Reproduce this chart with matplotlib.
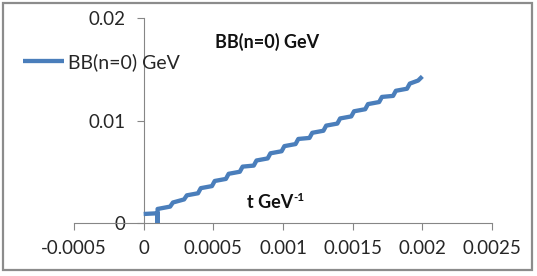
import matplotlib
matplotlib.use("Agg")
import matplotlib.pyplot as plt
from matplotlib.patches import Rectangle

plt.rcParams['font.family'] = ['Lato', 'DejaVu Sans']

# series (step corners)
t = [0, 0.0001, 0.0001, 0.0001,
     0.00019, 0.00021, 0.00029, 0.00031, 0.00039, 0.00041, 0.00049, 0.00051,
     0.00059, 0.00061, 0.00069, 0.00071, 0.00079, 0.00081, 0.00089, 0.00091,
     0.00099, 0.00101, 0.00109, 0.00111, 0.00119, 0.00121, 0.00129, 0.00131,
     0.00139, 0.00141, 0.00149, 0.00151, 0.00159, 0.00161, 0.00169, 0.00171,
     0.00179, 0.00181, 0.00189, 0.00191, 0.00197, 0.0020]
bb = [0.00088, 0.00095, -0.0009, 0.00137,
      0.0016, 0.0020, 0.0023, 0.0027, 0.0029, 0.0034, 0.0036, 0.0041,
      0.0043, 0.0048, 0.0050, 0.0055, 0.0056, 0.0061, 0.0063, 0.0068,
      0.0070, 0.0075, 0.0077, 0.0082, 0.0083, 0.0088, 0.0090, 0.0095,
      0.0097, 0.0102, 0.0104, 0.0109, 0.0111, 0.0116, 0.0118, 0.0123,
      0.0124, 0.0129, 0.0131, 0.0136, 0.0139, 0.0143]

xticks = [-0.0005, 0, 0.0005, 0.001, 0.0015, 0.002, 0.0025]
xlabels = ['-0.0005', '0', '0.0005', '0.001', '0.0015', '0.002', '0.0025']
yticks = [0, 0.01, 0.02]
ylabels = ['0', '0.01', '0.02']

W, H = 537, 276
fig = plt.figure(figsize=(W / 100, H / 100), dpi=100)
ax = fig.add_axes([74 / W, 1 - 223 / H, 418 / W, 205 / H])
ax.patch.set_alpha(0)

ax.plot(t, bb, color='#4a7ebb', lw=3.1, solid_joinstyle='round',
        solid_capstyle='butt', label='BB(n=0) GeV', zorder=3)

ax.set_xlim(-0.0005, 0.0025)
ax.set_ylim(0, 0.02)
ax.set_xticks(xticks, xlabels)
ax.set_yticks(yticks, ylabels)

# axes cross at zero, excel style
gray = '#868686'
for s in ['top', 'right']:
    ax.spines[s].set_visible(False)
ax.spines['left'].set_position(('data', 0))
ax.spines['bottom'].set_position(('data', 0))
for s in ['left', 'bottom']:
    ax.spines[s].set_color(gray)
    ax.spines[s].set_linewidth(0.8)
ax.tick_params(axis='both', colors=gray, labelcolor='#262626', length=5,
               width=0.8, labelsize=13.5)
ax.tick_params(axis='x', pad=7)
ax.tick_params(axis='y', pad=8)

leg = ax.legend(loc='center left', bbox_to_anchor=(23 / W, 1 - 62 / H),
                bbox_transform=fig.transFigure, frameon=False, fontsize=14,
                handlelength=2.1, handletextpad=0.2, borderpad=0,
                borderaxespad=0)
for txt in leg.get_texts():
    txt.set_color('#262626')

fig.text(267 / W, 1 - 42 / H, 'BB(n=0) GeV', fontsize=13, fontweight='bold',
         ha='center', va='center', color='#111111')
lbl = fig.text(247 / W, 1 - 203 / H, 't GeV', fontsize=13, fontweight='bold',
               ha='left', va='center', color='#111111')
ax.annotate('-1', xy=(1.0, 0.82), xycoords=lbl, fontsize=8.5,
            fontweight='bold', color='#111111', ha='left', va='center')

# chart border
fig.patches.append(Rectangle((2.5 / W, 1 - 270 / H), 529.5 / W, 267.5 / H,
                             transform=fig.transFigure, fill=False,
                             edgecolor='#8c8c8c', lw=1.6))

fig.savefig('out.png', dpi=100)
